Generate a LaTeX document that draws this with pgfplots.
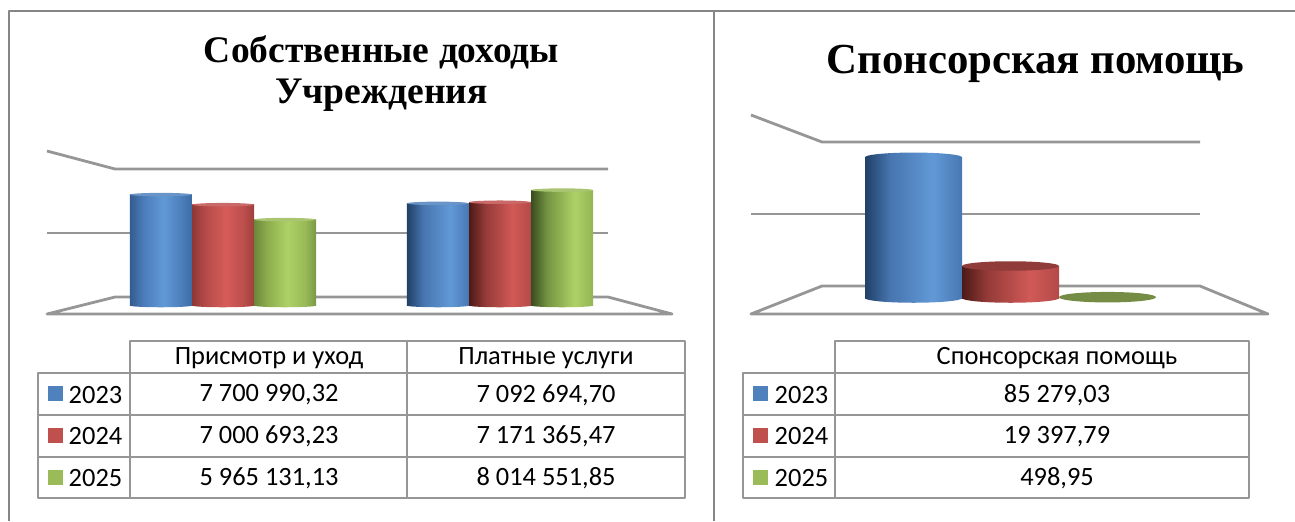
\documentclass[border=0pt]{standalone}
\usepackage{fontspec}
\setmainfont{Liberation Serif}
\newfontfamily\tabfont{Carlito}
\usepackage{pgfplots}
\pgfplotsset{compat=1.18}
\usetikzlibrary{shapes.geometric}

\definecolor{framegray}{RGB}{134,134,134}
\definecolor{wallgray}{RGB}{150,150,150}
\definecolor{cellgray}{RGB}{150,150,150}
\definecolor{legblue}{RGB}{79,129,189}
\definecolor{legred}{RGB}{192,80,77}
\definecolor{leggreen}{RGB}{155,187,89}

% 25bp..75bp of each shading is stretched over the width of the bar
\pgfdeclarehorizontalshading{blueA}{100bp}{rgb(0bp)=(0.20,0.36,0.56); rgb(25bp)=(0.20,0.36,0.56); rgb(35bp)=(0.29,0.48,0.72); rgb(52bp)=(0.38,0.60,0.84); rgb(66bp)=(0.30,0.50,0.74); rgb(75bp)=(0.24,0.42,0.64); rgb(100bp)=(0.24,0.42,0.64)}
\pgfdeclarehorizontalshading{blueB}{100bp}{rgb(0bp)=(0.13,0.25,0.40); rgb(25bp)=(0.13,0.25,0.40); rgb(38bp)=(0.28,0.46,0.69); rgb(60bp)=(0.38,0.60,0.84); rgb(75bp)=(0.28,0.47,0.70); rgb(100bp)=(0.28,0.47,0.70)}
\pgfdeclarehorizontalshading{redA}{100bp}{rgb(0bp)=(0.55,0.22,0.21); rgb(25bp)=(0.55,0.22,0.21); rgb(35bp)=(0.70,0.29,0.28); rgb(52bp)=(0.84,0.36,0.35); rgb(66bp)=(0.74,0.31,0.30); rgb(75bp)=(0.62,0.25,0.24); rgb(100bp)=(0.62,0.25,0.24)}
\pgfdeclarehorizontalshading{redB}{100bp}{rgb(0bp)=(0.30,0.10,0.09); rgb(25bp)=(0.30,0.10,0.09); rgb(38bp)=(0.58,0.23,0.22); rgb(60bp)=(0.82,0.35,0.34); rgb(75bp)=(0.70,0.29,0.28); rgb(100bp)=(0.70,0.29,0.28)}
\pgfdeclarehorizontalshading{greenA}{100bp}{rgb(0bp)=(0.42,0.53,0.24); rgb(25bp)=(0.42,0.53,0.24); rgb(35bp)=(0.55,0.67,0.30); rgb(52bp)=(0.68,0.82,0.40); rgb(66bp)=(0.60,0.73,0.34); rgb(75bp)=(0.48,0.60,0.27); rgb(100bp)=(0.48,0.60,0.27)}
\pgfdeclarehorizontalshading{greenB}{100bp}{rgb(0bp)=(0.22,0.30,0.12); rgb(25bp)=(0.22,0.30,0.12); rgb(38bp)=(0.46,0.58,0.26); rgb(60bp)=(0.68,0.82,0.40); rgb(75bp)=(0.58,0.71,0.33); rgb(100bp)=(0.58,0.71,0.33)}

\pgfplotsset{
  plainaxis/.style={scale only axis, hide axis, clip=false, anchor=south west, ymin=0},
  cyl/.style 2 args={ybar, bar shift=0pt, bar width=#1, draw=none, shading=#2},
  % empty node at each point, so the ellipse sits on the value
  disc/.style n args={3}{only marks, mark=none, point meta=explicit symbolic,
    nodes near coords={}, every node near coord/.style={anchor=center, ellipse, inner sep=0pt,
      minimum width=#1, minimum height=#2, #3}},
}

\begin{document}
\begin{tikzpicture}
\begin{scope}[x=0.5pt,y=-0.5pt,line join=round]
\useasboundingbox (0,0) rectangle (1295,521);
% outer frame
\draw[framegray,line width=1pt] (9,521) -- (9,11) -- (1295,11);
\draw[framegray,line width=1pt] (714,11) -- (714,521);
% titles
\node[font=\fontsize{18.75}{20.5}\selectfont\bfseries,align=center] at (381.5,73.5) {Собственные доходы\\Учреждения};
\node[font=\fontsize{21.4}{24}\selectfont\bfseries] at (1035.5,63.5) {Спонсорская помощь};
% walls left
\draw[wallgray,line width=1.4pt] (47,151) -- (115,169) -- (608,169);
\draw[wallgray,line width=1.4pt] (47,233) -- (608,233);
\draw[wallgray,line width=1.4pt] (115,297) -- (608,297) -- (672,314) -- (47,314) -- cycle;
% walls right
\draw[wallgray,line width=1.4pt] (751,115) -- (822,142) -- (1200,142);
\draw[wallgray,line width=1.4pt] (751,214) -- (1200,214);
\draw[wallgray,line width=1.4pt] (822,286) -- (1200,286) -- (1268,314) -- (751,314) -- cycle;
% left table
\draw[cellgray,line width=1pt] (130,373) -- (130,341) -- (685,341) -- (685,498) -- (38,498) -- (38,373) -- (685,373);
\draw[cellgray,line width=1pt] (38,415) -- (685,415) (38,456.5) -- (685,456.5) (130,373) -- (130,498) (407,341) -- (407,498);
% right table
\draw[cellgray,line width=1pt] (835,373) -- (835,341) -- (1249,341) -- (1249,498) -- (743,498) -- (743,373) -- (1249,373);
\draw[cellgray,line width=1pt] (743,415) -- (1249,415) (743,456.5) -- (1249,456.5) (835,373) -- (835,498);
\fill[legblue] (48,386) rectangle (63,401);
\fill[legred] (48,428) rectangle (63,443);
\fill[leggreen] (48,470) rectangle (63,485);
\fill[legblue] (753,386) rectangle (768,401);
\fill[legred] (753,428) rectangle (768,443);
\fill[leggreen] (753,470) rectangle (768,485);
\begin{scope}[font=\tabfont\fontsize{13.2}{15}\selectfont]
\node at (269,358.5) {Присмотр и уход};
\node at (546,358.5) {Платные услуги};
\node at (1057,358.5) {Спонсорская помощь};
\node at (95.5,395) {2023};
\node at (95.5,436.5) {2024};
\node at (95.5,478) {2025};
\node at (801.5,395) {2023};
\node at (801.5,436.5) {2024};
\node at (801.5,478) {2025};
\node at (269,395) {7 700 990,32};
\node at (269,436.5) {7 000 693,23};
\node at (269,478) {5 965 131,13};
\node at (546,395) {7 092 694,70};
\node at (546,436.5) {7 171 365,47};
\node at (546,478) {8 014 551,85};
\node at (1057,395) {85 279,03};
\node at (1057,436.5) {19 397,79};
\node at (1057,478) {498,95};
\end{scope}
\end{scope}

% left chart: 1 x unit = 277 px, y 0..10 mln = 144 px
\begin{axis}[plainaxis, at={(42.25pt,-152.75pt)}, width=277pt, height=72pt, xmin=-0.5, xmax=1.5, ymax=10000000]
\addplot[disc={31pt}{1.75pt}{shading=blueA}] coordinates {(-0.224,0)};
\addplot[cyl={31pt}{blueA}] coordinates {(-0.224,7700990.32)};
\addplot[disc={31pt}{1.75pt}{fill=legblue!85!white}] coordinates {(-0.224,7700990.32)};
\addplot[disc={31pt}{1.75pt}{shading=redA}] coordinates {(0,0)};
\addplot[cyl={31pt}{redA}] coordinates {(0,7000693.23)};
\addplot[disc={31pt}{1.75pt}{fill=legred!85!white}] coordinates {(0,7000693.23)};
\addplot[disc={31pt}{1.75pt}{shading=greenA}] coordinates {(0.224,0)};
\addplot[cyl={31pt}{greenA}] coordinates {(0.224,5965131.13)};
\addplot[disc={31pt}{1.75pt}{fill=leggreen!85!white}] coordinates {(0.224,5965131.13)};
\addplot[disc={31pt}{1.75pt}{shading=blueB}] coordinates {(0.776,0)};
\addplot[cyl={31pt}{blueB}] coordinates {(0.776,7092694.70)};
\addplot[disc={31pt}{1.75pt}{fill=legblue!85!white}] coordinates {(0.776,7092694.70)};
\addplot[disc={31pt}{1.75pt}{shading=redB}] coordinates {(1,0)};
\addplot[cyl={31pt}{redB}] coordinates {(1,7171365.47)};
\addplot[disc={31pt}{1.75pt}{fill=legred!85!white}] coordinates {(1,7171365.47)};
\addplot[disc={31pt}{1.75pt}{shading=greenB}] coordinates {(1.224,0)};
\addplot[cyl={31pt}{greenB}] coordinates {(1.224,8014551.85)};
\addplot[disc={31pt}{1.75pt}{fill=leggreen!85!white}] coordinates {(1.224,8014551.85)};
\end{axis}

% right chart: one category, bars 97 px wide
\begin{axis}[plainaxis, at={(408.25pt,-149pt)}, width=194pt, height=82.5pt, xmin=-2, xmax=2, ymax=100000]
\addplot[disc={48.5pt}{4.75pt}{shading=blueB}] coordinates {(-1,0)};
\addplot[cyl={48.5pt}{blueB}] coordinates {(-1,85279.03)};
\addplot[disc={48.5pt}{4.75pt}{shading=blueB}] coordinates {(-1,85279.03)};
\addplot[disc={48.5pt}{4.75pt}{shading=redB}] coordinates {(0,0)};
\addplot[cyl={48.5pt}{redB}] coordinates {(0,19397.79)};
\addplot[disc={48.5pt}{4.75pt}{fill=legred!75!black}] coordinates {(0,19397.79)};
\addplot[disc={48.5pt}{5.25pt}{fill=leggreen!75!black}] coordinates {(1,498.95)};
\end{axis}
\end{tikzpicture}
\end{document}
